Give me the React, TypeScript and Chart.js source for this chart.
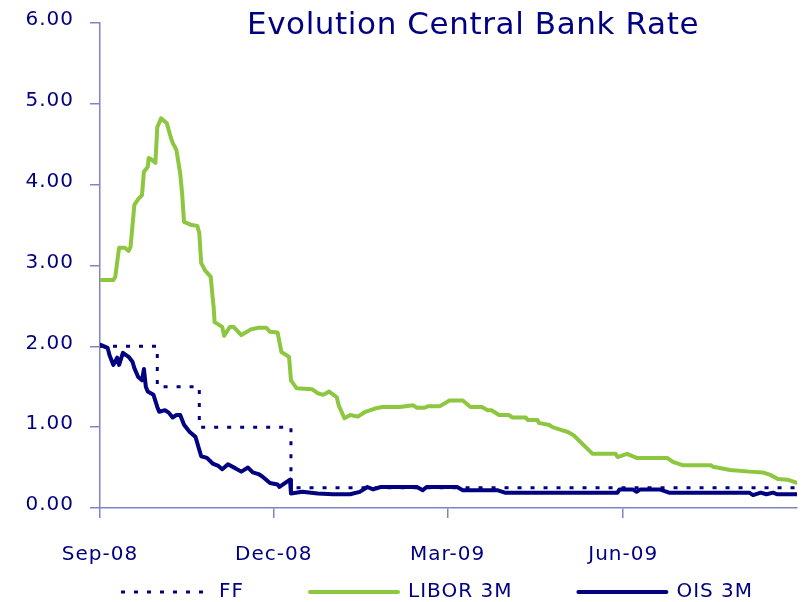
import React, { useEffect, useRef } from "react";
import { Chart, registerables } from "chart.js";

Chart.register(...registerables);

// ---- Data (x = days since start of axis, y = rate in %) ----
const TITLE = "Evolution Central Bank Rate";
const tickDays = [0, 91, 182, 274];
const tickLabels = ["Sep-08", "Dec-08", "Mar-09", "Jun-09"];

const ffDays = [0, 30, 52, 100, 365];
const ffValues = [2.0, 1.5, 1.0, 0.25, 0.25];

const liborDays = [
  0, 7, 8, 10, 13, 15, 16, 18, 20, 22, 23, 25, 25.5, 27, 29, 30, 32, 35, 37, 38,
  40, 42, 43, 44, 48, 51, 52, 53, 55, 58, 59, 59.5, 60, 64, 65, 68, 70, 74, 79,
  83, 87, 89, 93, 95, 99, 100, 103, 111, 114, 117, 120, 124, 125, 128, 131, 135,
  139, 144, 148, 157, 164, 166, 170, 172, 178, 183, 190, 194, 200, 203, 205, 209,
  214, 216, 223, 224, 229, 230, 235, 237, 241, 245, 248, 258, 270, 271, 276,
  281, 297, 300, 305, 320, 321, 330, 340, 347, 351, 355, 360, 365,
];
const liborValues = [
  2.82, 2.82, 2.86, 3.22, 3.22, 3.18, 3.23, 3.75, 3.82, 3.87, 4.16, 4.22, 4.33,
  4.31, 4.27, 4.71, 4.82, 4.76, 4.59, 4.52, 4.43, 4.14, 3.89, 3.54, 3.5, 3.49,
  3.4, 3.03, 2.94, 2.86, 2.6, 2.49, 2.3, 2.24, 2.13, 2.24, 2.24, 2.14, 2.21, 2.23,
  2.23, 2.18, 2.17, 1.93, 1.87, 1.58, 1.48, 1.47, 1.42, 1.4, 1.44, 1.37, 1.27,
  1.11, 1.15, 1.13, 1.19, 1.23, 1.25, 1.25, 1.27, 1.24, 1.24, 1.26, 1.26, 1.33,
  1.33, 1.25, 1.25, 1.21, 1.21, 1.15, 1.15, 1.12, 1.12, 1.09, 1.09, 1.05, 1.03,
  1.0, 0.97, 0.94, 0.9, 0.67, 0.67, 0.63, 0.67, 0.62, 0.62, 0.57, 0.53, 0.53,
  0.51, 0.47, 0.45, 0.44, 0.41, 0.36, 0.35, 0.31,
];

const oisDays = [
  0, 4, 5, 7, 9, 10, 12, 15, 17, 18, 20, 22, 23, 24, 25, 28, 30, 31, 34, 36, 38,
  40, 42, 44, 47, 50, 53, 56, 59, 62, 64, 67, 71, 74, 77.5, 80, 83, 85, 89, 93,
  94, 97, 99.5, 100, 106, 114, 122, 131, 136, 140, 143, 147, 166, 169, 171, 187,
  190, 208, 212, 271, 272, 279, 281, 283, 293, 298, 340, 342, 346, 349, 352.5,
  354.5, 365,
];
const oisValues = [
  2.02, 1.98, 1.89, 1.77, 1.86, 1.77, 1.92, 1.87, 1.81, 1.73, 1.62, 1.58, 1.72,
  1.5, 1.44, 1.4, 1.25, 1.19, 1.21, 1.18, 1.12, 1.15, 1.15, 1.03, 0.94, 0.88,
  0.64, 0.62, 0.55, 0.52, 0.48, 0.54, 0.49, 0.45, 0.5, 0.44, 0.42, 0.39, 0.31,
  0.29, 0.26, 0.31, 0.35, 0.18, 0.2, 0.18, 0.17, 0.17, 0.2, 0.26, 0.23, 0.26,
  0.26, 0.22, 0.26, 0.26, 0.22, 0.22, 0.19, 0.19, 0.23, 0.23, 0.2, 0.23, 0.23,
  0.19, 0.19, 0.16, 0.19, 0.17, 0.19, 0.17, 0.17,
];

// ---- Styles ----
const FONT = '"DejaVu Sans", Verdana, sans-serif';
const NAVY = "#000080";
const GREEN = "#8DC63F";
const AXIS = "#8282C8";
const LEGEND_PAD = 66;

const toPoints = (xs: number[], ys: number[]) => xs.map((x, i) => ({ x, y: ys[i] }));

const spacingPlugin = {
  id: "spacing",
  beforeUpdate(chart: any) {
    chart.ctx.letterSpacing = "1px";
  },
  beforeDraw(chart: any) {
    chart.ctx.letterSpacing = "1px";
  },
  afterLayout(chart: any) {
    const lg = chart.legend;
    if (!lg || !lg.lineWidths) return;
    const p = LEGEND_PAD;
    // place legend row so that item centres sit at y=592 and first item at x=120
    const start = (lg.left + p + lg.right - lg.lineWidths[0]) / 2;
    const dx = 121 - start;
    lg.top = 592 - p - 10;
    lg.bottom = chart.height;
    lg.left += dx;
    lg.right += dx;
  },
  afterDraw(chart: any) {
    const ctx = chart.ctx;
    ctx.save();
    ctx.letterSpacing = "0.6px";
    ctx.font = `31px ${FONT}`;
    ctx.fillStyle = NAVY;
    ctx.textAlign = "center";
    ctx.textBaseline = "alphabetic";
    ctx.fillText(TITLE, 473, 34);
    ctx.restore();
  },
};

export default function App() {
  const ref = useRef<HTMLCanvasElement | null>(null);

  useEffect(() => {
    if (!ref.current) return;
    const chart = new Chart(ref.current, {
      type: "line",
      data: {
        datasets: [
          {
            label: "FF",
            data: toPoints(ffDays, ffValues),
            borderColor: NAVY,
            backgroundColor: NAVY,
            borderWidth: 3,
            borderDash: [4, 9],
            borderCapStyle: "butt",
            stepped: true,
            pointRadius: 0,
            fill: false,
          },
          {
            label: "LIBOR 3M",
            data: toPoints(liborDays, liborValues),
            borderColor: GREEN,
            backgroundColor: GREEN,
            borderWidth: 4,
            borderJoinStyle: "round",
            borderCapStyle: "round",
            pointRadius: 0,
            tension: 0,
            fill: false,
          },
          {
            label: "OIS 3M",
            data: toPoints(oisDays, oisValues),
            borderColor: NAVY,
            backgroundColor: NAVY,
            borderWidth: 4,
            borderJoinStyle: "round",
            borderCapStyle: "round",
            pointRadius: 0,
            tension: 0,
            fill: false,
          },
        ],
      },
      options: {
        responsive: false,
        animation: false,
        devicePixelRatio: 1,
        layout: { padding: { top: 23, right: 7, left: 0, bottom: 0 } },
        plugins: {
          title: { display: false },
          tooltip: { enabled: false },
          legend: {
            position: "bottom",
            maxHeight: 30,
            labels: {
              usePointStyle: true,
              pointStyle: "line",
              pointStyleWidth: 88,
              padding: LEGEND_PAD,
              color: NAVY,
              font: { family: FONT, size: 20 },
              generateLabels: (c: any) => {
                const items = (Chart as any).defaults.plugins.legend.labels.generateLabels(c);
                items.forEach((it: any) => {
                  const ds = c.data.datasets[it.datasetIndex];
                  it.lineDash = ds.borderDash || [];
                  it.lineCap = ds.borderCapStyle || "butt";
                  it.lineWidth = ds.borderWidth;
                  it.strokeStyle = ds.borderColor;
                });
                return items;
              },
            },
          },
        },
        scales: {
          x: {
            type: "linear",
            min: 0,
            max: 365,
            afterBuildTicks: (s: any) => {
              s.ticks = tickDays.map((v) => ({ value: v }));
            },
            afterFit: (s: any) => {
              const lh = s.chart.legend ? s.chart.legend.height : 0;
              s.height = s.chart.height - 508 - lh;
            },
            ticks: {
              autoSkip: false,
              maxRotation: 0,
              padding: 25,
              color: NAVY,
              font: { family: FONT, size: 20 },
              callback: (v: any) => {
                const i = tickDays.indexOf(Number(v));
                return i >= 0 ? tickLabels[i] : "";
              },
            },
            grid: {
              drawOnChartArea: false,
              drawTicks: true,
              tickLength: 10,
              color: AXIS,
              lineWidth: 1.5,
            },
            border: { display: true, color: AXIS, width: 1.5 },
          },
          y: {
            min: 0,
            max: 6,
            afterFit: (s: any) => {
              s.width = 100;
              s.paddingTop = 0;
              s.paddingBottom = 0;
            },
            ticks: {
              stepSize: 1,
              padding: 16,
              labelOffset: -3,
              color: NAVY,
              font: { family: FONT, size: 20 },
              callback: (v: any) => Number(v).toFixed(2),
            },
            grid: {
              drawOnChartArea: false,
              drawTicks: true,
              tickLength: 10,
              color: AXIS,
              lineWidth: 1.5,
            },
            border: { display: true, color: AXIS, width: 1.5 },
          },
        },
      },
      plugins: [spacingPlugin],
    } as any);
    return () => chart.destroy();
  }, []);

  return (
    <div style={{ position: "fixed", left: 0, top: 0, width: 804, height: 602, background: "#fff" }}>
      <canvas ref={ref} width={804} height={602} style={{ display: "block" }} />
    </div>
  );
}
